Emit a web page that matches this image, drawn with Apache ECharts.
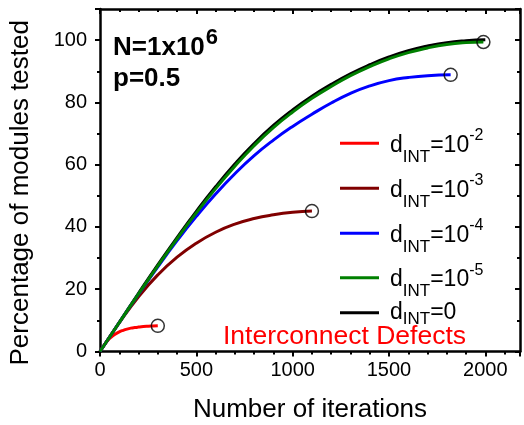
<!DOCTYPE html>
<html><head><meta charset="utf-8">
<script src="https://cdn.jsdelivr.net/npm/echarts@6/dist/echarts.min.js"></script>
<style>html,body{margin:0;padding:0;background:#fff}#c{width:524px;height:425px}</style>
</head><body><div id="c"></div>
<script>
// ---- data ----
const xTickLabels = ['0', '500', '1000', '1500', '2000'];
const yTickLabels = ['0', '20', '40', '60', '80', '100'];

const seriesNames = ['d_INT=10^-2', 'd_INT=10^-3', 'd_INT=10^-4', 'd_INT=10^-5', 'd_INT=0'];

const dInt1e2 = [[0,0],[20,1.9],[40,3.5],[60,4.7],[80,5.6],[100,6.3],[120,6.8],[140,7.2],[160,7.5],[180,7.7],[200,7.85],[225,8.0],[250,8.1],[275,8.18],[300,8.25]];
const dInt1e3 = [[0,0],[100,9.2],[200,17.6],[300,24.6],[400,30.3],[500,34.8],[600,38.3],[700,40.9],[800,42.7],[900,43.9],[1000,44.7],[1100,45.1]];
const dInt1e4 = [[0,0],[100,9.3],[200,18.4],[300,27.2],[400,35.6],[500,43.4],[600,50.6],[700,57.1],[800,62.9],[900,67.9],[1000,72.3],[1100,76.2],[1200,79.8],[1300,82.9],[1400,85.3],[1500,87.0],[1600,88.0],[1700,88.6],[1820,88.85]];
const dInt1e5 = [[0,0],[100,9.3],[200,18.5],[300,27.5],[400,36.2],[500,44.5],[600,52.3],[700,59.5],[800,66.1],[900,71.9],[1000,76.9],[1100,81.3],[1200,85.1],[1300,88.6],[1400,91.5],[1500,94.0],[1600,96.0],[1700,97.5],[1800,98.6],[1900,99.2],[1990,99.4]];
const dInt0   = [[0,0],[100,9.4],[200,18.7],[300,27.8],[400,36.6],[500,45.0],[600,52.9],[700,60.2],[800,66.8],[900,72.6],[1000,77.6],[1100,82.0],[1200,85.8],[1300,89.2],[1400,92.1],[1500,94.6],[1600,96.6],[1700,98.1],[1800,99.2],[1900,99.8],[2000,100.1]];

const lineColors = ['#ff0000', '#800000', '#0000ff', '#008000', '#000000'];
const lineData = [dInt1e2, dInt1e3, dInt1e4, dInt1e5, dInt0];
const endMarked = [dInt1e2, dInt1e3, dInt1e4, dInt1e5];
const legendLineY = [143.3, 188.3, 233.3, 277.7, 312.7];

// ---- chart ----
const FONT = "'Liberation Sans', Arial, sans-serif";
const chart = echarts.init(document.getElementById('c'), null, {renderer: 'canvas'});

function legendFormat(name) {
  const m = name.match(/^d_INT=(\d+)(?:\^(-?\d+))?$/);
  if (m[2]) return '{m|d}{s|INT}{m|=' + m[1] + '}{p|' + m[2] + '}';
  return '{m0|d}{s0|INT}{m0|=' + m[1] + '}';
}

const drawOrder = [4, 0, 1, 2, 3];
const series = drawOrder.map(i => ({
  name: seriesNames[i],
  type: 'line',
  data: lineData[i],
  smooth: 0.5,
  showSymbol: false,
  symbol: 'none',
  lineStyle: {color: lineColors[i], width: 3},
  itemStyle: {color: lineColors[i]},
  z: 2 + drawOrder.indexOf(i),
  silent: true
}));
series.push({
  name: 'ends',
  type: 'scatter',
  data: endMarked.map(d => d[d.length - 1]),
  symbol: 'circle',
  symbolSize: 13,
  itemStyle: {color: 'rgba(0,0,0,0)', borderColor: '#000', borderWidth: 1.5},
  z: 10,
  silent: true
});

const legends = seriesNames.map((n, i) => ({
  data: [n],
  left: 340,
  top: legendLineY[i] - (n.indexOf('^') >= 0 ? 15.3 : 11.5),
  padding: 0,
  orient: 'vertical',
  icon: 'rect',
  itemWidth: 39,
  itemHeight: 3,
  selectedMode: false,
  formatter: legendFormat,
  textStyle: {
    padding: [0, 0, 0, 6],
    rich: {
      m: {fontSize: 23, fontFamily: FONT, color: '#000', padding: [4, 0, 0, 0]},
      s: {fontSize: 17, fontFamily: FONT, color: '#000', padding: [28, 0, 0, 0]},
      p: {fontSize: 16, fontFamily: FONT, color: '#000', padding: [0, 0, 14.6, 0]},
      m0: {fontSize: 23, fontFamily: FONT, color: '#000'},
      s0: {fontSize: 17, fontFamily: FONT, color: '#000', padding: [14, 0, 0, 0]}
    }
  }
}));

const axisLineStyle = {show: true, onZero: false, lineStyle: {color: '#000', width: 2.5}};
const tickStyle = {width: 2, color: '#000'};

chart.setOption({
  animation: false,
  backgroundColor: '#fff',
  grid: {left: 100, right: 4, top: 9, bottom: 73.5, outerBoundsMode: 'none', containLabel: false},
  legend: legends,
  xAxis: [{
    type: 'value', position: 'bottom', min: 0, max: 2180, interval: 500,
    axisLine: axisLineStyle, splitLine: {show: false},
    axisTick: {show: true, inside: false, length: 5, lineStyle: tickStyle},
    minorTick: {show: true, splitNumber: 5, length: 3, lineStyle: tickStyle},
    axisLabel: {
      margin: 9, color: '#000', fontSize: 20, fontFamily: FONT,
      formatter: v => xTickLabels.includes(String(v)) ? String(v) : ''
    },
    name: 'Number of iterations', nameLocation: 'middle', nameGap: 45,
    nameTextStyle: {fontSize: 26, fontFamily: FONT, color: '#000'}
  }, {
    type: 'value', position: 'top', min: 0, max: 2180, interval: 500,
    axisLine: axisLineStyle, splitLine: {show: false},
    axisTick: {show: true, inside: true, length: 5, lineStyle: tickStyle},
    minorTick: {show: true, splitNumber: 5, length: 3, lineStyle: tickStyle},
    axisLabel: {show: false}
  }],
  yAxis: [{
    type: 'value', position: 'left', min: 0, max: 110, interval: 20,
    axisLine: axisLineStyle, splitLine: {show: false},
    axisTick: {show: true, inside: false, length: 5, lineStyle: tickStyle},
    minorTick: {show: true, splitNumber: 2, length: 3, lineStyle: tickStyle},
    axisLabel: {
      margin: 13, color: '#000', fontSize: 20, fontFamily: FONT,
      formatter: v => yTickLabels.includes(String(v)) ? String(v) : ''
    },
    name: 'Percentage of modules tested', nameLocation: 'middle', nameGap: 66, nameRotate: 90,
    nameTextStyle: {fontSize: 26, fontFamily: FONT, color: '#000', padding: [0, 25, 0, 0]}
  }, {
    type: 'value', position: 'right', min: 0, max: 110, interval: 20,
    axisLine: axisLineStyle, splitLine: {show: false},
    axisTick: {show: true, inside: true, length: 5, lineStyle: tickStyle},
    minorTick: {show: true, splitNumber: 2, length: 3, lineStyle: tickStyle},
    axisLabel: {show: false}
  }],
  graphic: [{
    type: 'text', x: 113, y: 48.3, silent: true,
    style: {
      text: '{b|N=1x10}{u|6}', align: 'left', verticalAlign: 'middle',
      rich: {
        b: {fontSize: 26, fontWeight: 'bold', fontFamily: FONT, fill: '#000', color: '#000'},
        u: {fontSize: 22, fontWeight: 'bold', fontFamily: FONT, fill: '#000', color: '#000', padding: [0, 0, 20, 1]}
      }
    }
  }, {
    type: 'text', x: 113, y: 78.8, silent: true,
    style: {text: 'p=0.5', align: 'left', verticalAlign: 'middle', font: 'bold 26px ' + FONT, fill: '#000'}
  }, {
    type: 'text', x: 223, y: 336.5, silent: true,
    style: {text: 'Interconnect Defects', align: 'left', verticalAlign: 'middle', font: '26.5px ' + FONT, fill: '#ff0000'}
  }],
  series: series
});
</script></body></html>
